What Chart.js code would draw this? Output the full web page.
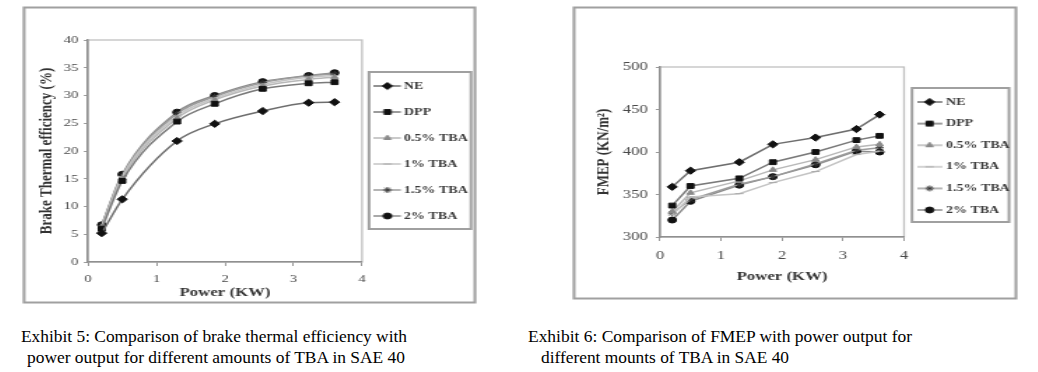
<!DOCTYPE html>
<html><head><meta charset="utf-8">
<script src="https://cdn.jsdelivr.net/npm/chart.js@4.4.1/dist/chart.umd.min.js"></script>
<style>
html,body{margin:0;padding:0;background:#fff;width:1038px;height:372px;overflow:hidden;position:relative}
canvas{position:absolute;filter:blur(0.35px)}
.cap{position:absolute;font-family:"Liberation Serif","Times New Roman",serif;font-size:16px;line-height:21px;white-space:nowrap;color:#000;transform-origin:0 0}
</style></head><body>
<canvas id="c1" width="325" height="298" style="left:22px;top:6px;width:455px;height:298px"></canvas>
<canvas id="c2" width="319" height="294" style="left:572px;top:6px;width:446px;height:294px"></canvas>
<div class="cap" data-w="386" style="left:21px;top:326px">Exhibit 5: Comparison of brake thermal efficiency with</div>
<div class="cap" data-w="378" style="left:27px;top:347px">power output for different amounts of TBA in SAE 40</div>
<div class="cap" data-w="384" style="left:528px;top:326px">Exhibit 6: Comparison of FMEP with power output for</div>
<div class="cap" data-w="248" style="left:541px;top:347px">different mounts of TBA in SAE 40</div>
<script>
// ---------------- data ----------------
const power = [0.2, 0.5, 1.3, 1.85, 2.55, 3.22, 3.6];
const seriesLabels = ['NE', 'DPP', '0.5% TBA', '1% TBA', '1.5% TBA', '2% TBA'];
const bteNE  = [5.2, 11.3, 21.8, 24.9, 27.2, 28.7, 28.8];
const bteDPP = [6.0, 14.6, 25.3, 28.5, 31.2, 32.2, 32.4];
const bte05  = [6.3, 15.1, 25.9, 29.2, 31.7, 32.9, 33.3];
const bte10  = [6.4, 15.4, 26.3, 29.5, 32.0, 33.3, 33.6];
const bte15  = [6.6, 15.6, 26.7, 29.8, 32.3, 33.5, 33.9];
const bte20  = [6.7, 15.8, 27.0, 30.0, 32.5, 33.6, 34.1];
const fmepNE  = [359, 378, 388, 409, 417, 427, 444];
const fmepDPP = [337, 360, 369, 388, 400, 414, 419];
const fmep05  = [330, 352, 366, 379, 391, 406, 409];
const fmep10  = [326, 347, 351, 364, 377, 397, 401];
const fmep15  = [328, 344, 362, 371, 386, 402, 405];
const fmep20  = [320, 342, 361, 371, 385, 401, 400];
const xTicks = [0, 1, 2, 3, 4];
const bteTicks = [0, 5, 10, 15, 20, 25, 30, 35, 40];
const fmepTicks = [300, 350, 400, 450, 500];

// ---------------- styles ----------------
const FONT = '"Liberation Serif","Times New Roman",serif';
const styles = [
  {line:'#6e6e6e', point:'rectRot',  r:3.6, fill:'#111'},
  {line:'#7a7a7a', point:'rect',     r:3.4, fill:'#111'},
  {line:'#b8b8b8', point:'triangle', r:3.0, fill:'#8a8a8a'},
  {line:'#c4c4c4', point:'line',     r:3.0, fill:'#aaa'},
  {line:'#9c9c9c', point:'star',     r:3.0, fill:'#333'},
  {line:'#8c8c8c', point:'circle',   r:3.0, fill:'#111'}
];

function sampleImg(st, W, H, x0, w) {
  const c = document.createElement('canvas');
  c.width = Math.round(W); c.height = H;
  const g = c.getContext('2d');
  g.strokeStyle = st.line; g.lineWidth = 1.5;
  g.beginPath(); g.moveTo(x0, H/2); g.lineTo(x0 + w, H/2); g.stroke();
  g.fillStyle = st.fill; g.strokeStyle = st.fill; g.lineWidth = 1;
  Chart.helpers.drawPoint(g, {pointStyle: st.point, radius: st.r, borderWidth: 1, rotation: 0}, x0 + w/2, H/2);
  return c;
}

const framePlugin = {
  id: 'frame',
  beforeDraw(chart, args, o) {
    const g = chart.ctx; g.save();
    g.fillStyle = '#fff'; g.fillRect(0, 0, chart.width, chart.height);
    g.strokeStyle = '#a0a0a0'; g.lineWidth = 2;
    g.strokeRect(1.5, 1.5, chart.width - 3, chart.height - 3);
    const a = chart.chartArea;
    g.strokeStyle = '#c0c0c0'; g.lineWidth = 1.3;
    g.strokeRect(a.left, a.top, a.width, a.height);
    const b = o.box;
    g.strokeStyle = '#a0a0a0'; g.lineWidth = 2;
    g.strokeRect(b.x, b.y, b.w, b.h);
    g.restore();
  }
};

function build(cfg) {
  const cv = document.getElementById(cfg.id);
  const W = cv.width, H = cv.height;
  const SX = cfg.pageW / W;
  const ix = p => (p - cfg.pageLeft) / SX;
  const iy = p => p - cfg.pageTop;
  const plotL = ix(cfg.plot.l), plotR = ix(cfg.plot.r), plotT = iy(cfg.plot.t), plotB = iy(cfg.plot.b);
  const lg = cfg.legend;
  const imgW = 2 * (lg.boxW / 2 - lg.s);
  const imgs = styles.map(st => sampleImg(st, imgW, 12, 0, lg.sampleW));
  const box = {x: ix(lg.box.l), y: iy(lg.box.t), w: ix(lg.box.r) - ix(lg.box.l), h: lg.box.b - lg.box.t};
  const tickFont = {family: FONT, size: cfg.tickSize};
  const titleFont = {family: FONT, size: 13, weight: 'bold'};
  const xTitleFont = {family: FONT, size: 12, weight: 'bold'};
  const chart = new Chart(cv, {
    type: 'line',
    data: {
      datasets: seriesLabels.map((n, i) => ({
        label: n,
        data: power.map((x, j) => ({x: x, y: cfg.series[i][j]})),
        borderColor: styles[i].line, borderWidth: 1.5,
        pointStyle: styles[i].point, pointRadius: styles[i].r,
        pointBackgroundColor: styles[i].fill, pointBorderColor: styles[i].fill, pointBorderWidth: 1,
        tension: cfg.smooth ? 0.4 : 0, cubicInterpolationMode: cfg.smooth ? 'monotone' : 'default',
        fill: false
      }))
    },
    options: {
      responsive: false, animation: false, devicePixelRatio: 1,
      layout: {padding: {top: plotT, left: 0, bottom: 0, right: 60}},
      plugins: {
        tooltip: {enabled: false},
        frame: {box: box},
        legend: {
          position: 'right', fullSize: false, align: 'center',
          title: {display: lg.titleH > 0, text: ' ', font: {size: 1}, padding: {top: 0, bottom: Math.max(lg.titleH - 1.2, 0)}},
          labels: {
            usePointStyle: true, pointStyleWidth: lg.boxW, padding: lg.pad,
            font: {family: FONT, size: 10, weight: 'bold'}, color: '#3a3a3a',
            generateLabels: (ch) => ch.data.datasets.map((ds, i) => ({
              text: ds.label, pointStyle: imgs[i], datasetIndex: i, hidden: false,
              fillStyle: 'rgba(0,0,0,0)', strokeStyle: 'rgba(0,0,0,0)', lineWidth: 0, fontColor: '#3a3a3a'
            }))
          }
        }
      },
      scales: {
        x: {
          type: 'linear', min: xTicks[0], max: xTicks[xTicks.length - 1],
          ticks: {stepSize: xTicks[1] - xTicks[0], font: tickFont, color: '#4a4a4a', padding: cfg.xTickPad},
          grid: {drawOnChartArea: false, drawTicks: true, tickLength: 4, color: '#999'},
          border: {display: true, color: '#909090', width: 1.5},
          title: {display: true, text: 'Power (KW)', font: xTitleFont, color: '#333', padding: {top: 0, bottom: cfg.xTitlePad}},
          afterFit: s => { s.height = H - plotB; }
        },
        y: {
          type: 'linear', min: cfg.yTicks[0], max: cfg.yTicks[cfg.yTicks.length - 1],
          ticks: {stepSize: cfg.yTicks[1] - cfg.yTicks[0], font: tickFont, color: '#4a4a4a', padding: cfg.yTickPad},
          grid: {drawOnChartArea: false, drawTicks: true, tickLength: 3, color: '#999'},
          border: {display: true, color: '#909090', width: 1.5},
          title: {display: true, text: cfg.yTitle, font: titleFont, color: '#333', padding: {top: ix(cfg.yTitleX) - 7.8, bottom: 0}},
          afterFit: s => { s.width = plotL; }
        }
      }
    },
    plugins: [framePlugin]
  });
  for (let k = 0; k < 3; k++) {
    const d = chart.chartArea.right - plotR;
    if (Math.abs(d) < 0.05) break;
    chart.options.layout.padding.right += d;
    chart.update('none');
  }
  return chart;
}

build({
  id: 'c1', pageLeft: 22, pageTop: 6, pageW: 455,
  plot: {l: 88, r: 363, t: 40, b: 262},
  series: [bteNE, bteDPP, bte05, bte10, bte15, bte20],
  yTicks: bteTicks, yTitle: 'Brake Thermal efficiency (%)', yTitleX: 47,
  tickSize: 10.5, xTickPad: 7, yTickPad: 4, xTitlePad: 3.8, smooth: true,
  legend: {pad: 16, boxW: 9, s: -7.5, sampleW: 19.3, titleH: 0, box: {l: 369, r: 471, t: 72, b: 229}}
});
build({
  id: 'c2', pageLeft: 572, pageTop: 6, pageW: 446,
  plot: {l: 660, r: 905, t: 67, b: 237},
  series: [fmepNE, fmepDPP, fmep05, fmep10, fmep15, fmep20],
  yTicks: fmepTicks, yTitle: 'FMEP (KN/m²)', yTitleX: 603,
  tickSize: 12, xTickPad: 8, yTickPad: 5.6, xTitlePad: 15.8, smooth: false,
  legend: {pad: 11.6, boxW: 13.4, s: -2.4, sampleW: 17.9, titleH: 8, box: {l: 912, r: 1009, t: 88, b: 222}}
});

document.querySelectorAll('.cap').forEach(el => {
  const w = el.getBoundingClientRect().width;
  el.style.transform = 'scaleX(' + (parseFloat(el.dataset.w) / w) + ')';
});
</script>
</body></html>
